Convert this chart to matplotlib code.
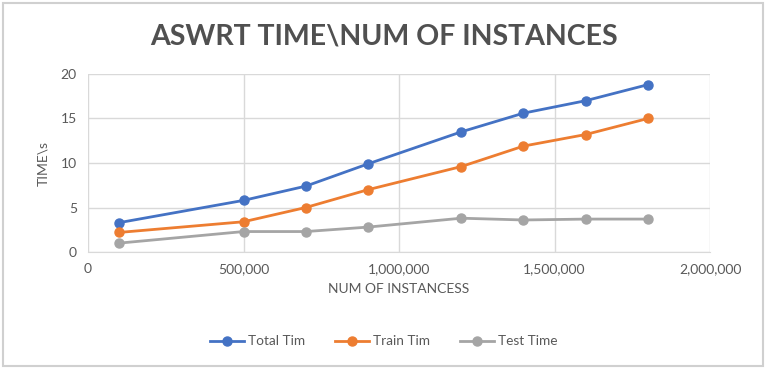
import matplotlib
matplotlib.use("Agg")
import matplotlib.pyplot as plt
from matplotlib.ticker import FuncFormatter, MultipleLocator
from matplotlib.patches import Rectangle

plt.rcParams['font.family'] = ['Lato', 'DejaVu Sans']

instances = [100000, 500000, 700000, 900000, 1200000, 1400000, 1600000, 1800000]
total_time = [3.3, 5.8, 7.4, 9.9, 13.5, 15.6, 17.0, 18.8]
train_time = [2.2, 3.4, 5.0, 7.0, 9.6, 11.9, 13.2, 15.0]
test_time = [1.0, 2.3, 2.3, 2.8, 3.8, 3.6, 3.7, 3.7]
series_names = ["Total Tim", "Train Tim", "Test Time"]
colors = ["#4472C4", "#ED7D31", "#A5A5A5"]

fig = plt.figure(figsize=(7.68, 3.69), dpi=100)
fig.patches.append(Rectangle((3/768, 3/369), 760/768, 363/369, transform=fig.transFigure,
                             fill=False, edgecolor="#d0d0d0", lw=1.5))
ax = fig.add_axes([0.1146, 0.317, 0.81, 0.4825])

for vals, name, c in zip([total_time, train_time, test_time], series_names, colors):
    ax.plot(instances, vals, color=c, lw=2.0, marker='o', markersize=6.5,
            markeredgecolor=c, markerfacecolor=c, label=name, zorder=3)

ax.set_xlim(0, 2000000)
ax.set_ylim(0, 20)
ax.xaxis.set_major_locator(MultipleLocator(500000))
ax.yaxis.set_major_locator(MultipleLocator(5))
ax.xaxis.set_major_formatter(FuncFormatter(lambda v, p: f"{int(v):,}"))
ax.grid(True, color="#d9d9d9", lw=1)
ax.set_axisbelow(True)
for s in ['top', 'right', 'left']:
    ax.spines[s].set_visible(False)
ax.spines['bottom'].set_color("#d9d9d9")
ax.tick_params(length=0, colors="#595959", labelsize=10, pad=8)

ax.set_xlabel("NUM OF INSTANCESS", color="#595959", fontsize=10, labelpad=6)
ax.set_ylabel("TIME\\s", color="#595959", fontsize=10, labelpad=8)

fig.text(0.5, 0.9, "ASWRT TIME\\NUM OF INSTANCES", ha='center', va='center',
         fontsize=20.5, fontweight='bold', color="#505050")

leg = fig.legend(loc='center', bbox_to_anchor=(0.5, 0.075), ncol=3, frameon=False,
                 fontsize=9.8, labelcolor="#595959", handlelength=2.5,
                 columnspacing=2.2, handletextpad=0.3)

fig.savefig("out.png", dpi=100)
